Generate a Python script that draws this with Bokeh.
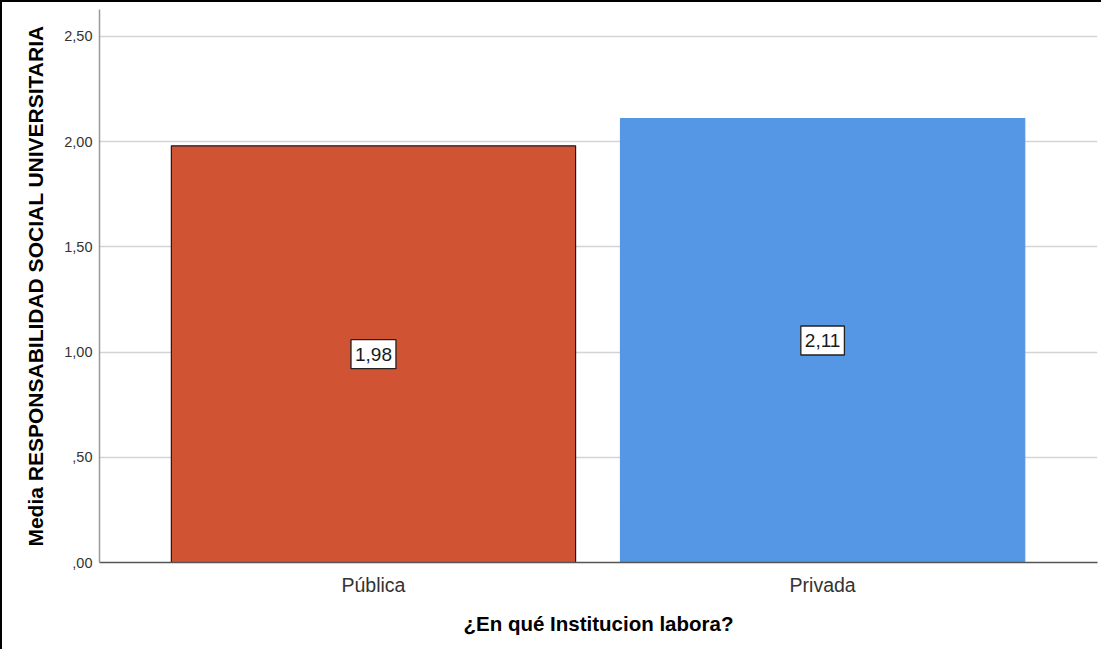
from bokeh.plotting import figure
from bokeh.models import ColumnDataSource, FixedTicker
from bokeh.core.properties import value
from bokeh.embed import file_html
from bokeh.resources import INLINE

categories = ["Pública", "Privada"]
means = [1.98, 2.11]
colors = ["#D05434", "#5596E5"]
outline = ["#1a1a1a", "#5596E5"]
y_ticks = [0.0, 0.5, 1.0, 1.5, 2.0, 2.5]


def fmt(v):
    s = f"{v:.2f}".replace(".", ",")
    return s[1:] if s.startswith("0") else s


xs = list(range(1, len(categories) + 1))
src = ColumnDataSource(dict(
    x=xs, top=means, color=colors, line=outline,
    ymid=[m / 2 for m in means], lbl=[fmt(m) for m in means],
))

p = figure(width=1101, height=649, output_backend="svg", toolbar_location=None,
           x_range=(0.39, 2.612), y_range=(0, 2.628),
           min_border_left=97, min_border_right=6, min_border_top=7, min_border_bottom=89)
p.styles = {"border-left": "2px solid black", "border-top": "2px solid black"}
p.outline_line_color = None
p.background_fill_color = "white"

p.vbar(x="x", top="top", width=0.9, bottom=0, source=src, fill_color="color",
       line_color="line", line_width=1.2)

p.text(x="x", y="ymid", text="lbl", source=src, text_align="center",
       text_baseline="middle", text_font=value("Liberation Sans"), text_font_size="19px",
       text_color="#1a1a1a", background_fill_color="white",
       border_line_color="#222222", border_line_width=1.3, padding=(4, 8))

p.xgrid.grid_line_color = None
p.ygrid.grid_line_color = "#D4D4D4"
p.ygrid.grid_line_width = 1.5
p.ygrid.ticker = FixedTicker(ticks=y_ticks)

p.yaxis.ticker = FixedTicker(ticks=y_ticks)
p.yaxis.major_label_overrides = {t: fmt(t) for t in y_ticks}
p.yaxis.axis_label = "Media RESPONSABILIDAD SOCIAL UNIVERSITARIA"
p.yaxis.axis_label_text_font = "Liberation Sans"
p.yaxis.axis_label_text_font_style = "bold"
p.yaxis.axis_label_text_font_size = "21px"
p.yaxis.axis_label_text_color = "black"
p.yaxis.axis_label_standoff = 14
p.yaxis.major_label_text_font = "Liberation Sans"
p.yaxis.major_label_text_font_size = "14.5px"
p.yaxis.major_label_text_color = "#333333"
p.yaxis.major_tick_out = 0
p.yaxis.major_tick_in = 0
p.yaxis.minor_tick_out = 0
p.yaxis.minor_tick_in = 0
p.yaxis.axis_line_color = "#999999"
p.yaxis.axis_line_width = 1.5
p.yaxis.major_label_standoff = 7

p.xaxis.ticker = FixedTicker(ticks=xs)
p.xaxis.major_label_overrides = {x: c for x, c in zip(xs, categories)}
p.xaxis.axis_label = "¿En qué Institucion labora?"
p.xaxis.axis_label_text_font = "Liberation Sans"
p.xaxis.axis_label_text_font_style = "bold"
p.xaxis.axis_label_text_font_size = "20.5px"
p.xaxis.axis_label_text_color = "black"
p.xaxis.axis_label_standoff = 13
p.xaxis.major_label_text_font = "Liberation Sans"
p.xaxis.major_label_text_font_size = "19.5px"
p.xaxis.major_label_text_color = "#333333"
p.xaxis.major_tick_out = 0
p.xaxis.major_tick_in = 0
p.xaxis.minor_tick_out = 0
p.xaxis.minor_tick_in = 0
p.xaxis.axis_line_color = "#555555"
p.xaxis.axis_line_width = 1.5
p.xaxis.major_label_standoff = 11

open("out.html", "w").write(file_html(p, INLINE))
